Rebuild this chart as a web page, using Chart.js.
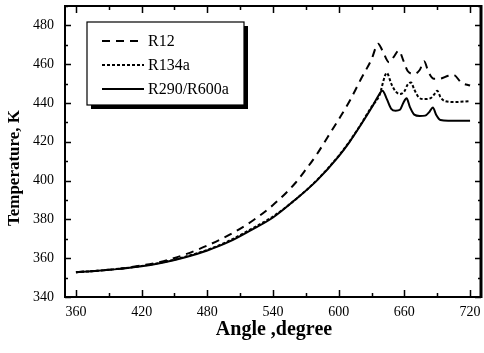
<!DOCTYPE html>
<html>
<head>
<meta charset="utf-8">
<script src="https://cdn.jsdelivr.net/npm/chart.js@4.4.1/dist/chart.umd.min.js"></script>
<style>
  html, body { margin: 0; padding: 0; background: #fff; }
  #wrap { width: 484px; height: 353px; }
</style>
</head>
<body>
<div id="wrap"><canvas id="tempChart" width="484" height="353"></canvas></div>
<script>
// Crank angle (degree) vs. temperature (K) for the three refrigerants
const anglesR12 = [360, 400, 440, 460, 480, 500, 520, 540, 560, 570, 580, 590, 600, 610, 620, 630, 636, 640, 646, 650, 655, 659, 663, 669, 674, 678, 682, 687, 692, 700, 705, 712, 720];
const tempR12 = [352.8, 354.6, 358.5, 362, 366.5, 372, 378.8, 387.4, 398.5, 405.7, 413.5, 422.5, 431.5, 441, 452, 462.5, 470.5, 467, 461, 463.5, 467, 462, 456.5, 455, 457, 461.5, 456, 452.5, 452.5, 454, 454.5, 450.5, 449];

const anglesR134a = [360, 380, 400, 420, 440, 460, 480, 500, 520, 540, 560, 580, 600, 610, 620, 630, 637, 644, 648, 652, 656, 660, 663, 666, 669, 673, 678, 684, 688, 690, 693, 697, 705, 720];
const tempR134a = [352.8, 353.5, 354.6, 356, 358, 360.8, 364.3, 369, 375, 381.5, 390, 400.2, 412.8, 420.3, 428.8, 438, 443.7, 455.5, 450, 446, 444.6, 446, 449.5, 450.6, 447, 443, 442, 442.5, 445, 446.3, 443, 441, 440.5, 441];

const anglesR290 = [360, 380, 400, 420, 440, 460, 480, 500, 520, 540, 560, 580, 600, 610, 620, 630, 636, 640, 644, 648, 652, 656, 659, 662, 665, 669, 674, 679, 683, 686, 689, 693, 700, 710, 720];
const tempR290 = [352.8, 353.5, 354.5, 355.8, 357.8, 360.5, 364, 368.5, 374.5, 381, 390, 400, 412.5, 420, 428.5, 437.5, 443.5, 446.3, 442, 437, 436, 436.5, 440, 442.4, 438, 434, 433.3, 433.5, 435.5, 437.7, 434, 431.2, 430.8, 430.8, 430.8];

const xTicks = [360, 420, 480, 540, 600, 660, 720];
const yTicks = [340, 360, 380, 400, 420, 440, 460, 480];

const serif = '"Liberation Serif", "Times New Roman", serif';

function toPoints(xs, ys) {
    return xs.map((x, i) => ({ x: x, y: ys[i] }));
}

// frame, inward tick marks, axis titles and the boxed legend
const decorations = {
    id: 'decorations',
    afterDraw(chart) {
        const ctx = chart.ctx;
        const area = chart.chartArea;
        const xs = chart.scales.x;
        const ys = chart.scales.y;
        ctx.save();
        ctx.strokeStyle = '#000';
        ctx.fillStyle = '#000';

        // ticks pointing into the plot
        ctx.lineWidth = 1.5;
        ctx.beginPath();
        for (let v = 340; v <= 490; v += 10) {
            const py = Math.round(ys.getPixelForValue(v)) + 0.5;
            const len = (v % 20 === 0) ? 6 : 3;
            ctx.moveTo(area.left, py); ctx.lineTo(area.left + len, py);
            ctx.moveTo(area.right, py); ctx.lineTo(area.right - len, py);
        }
        for (let v = 360; v <= 720; v += 30) {
            const px = Math.round(xs.getPixelForValue(v)) + 0.5;
            const len = (v % 60 === 0) ? 7 : 4;
            ctx.moveTo(px, area.bottom); ctx.lineTo(px, area.bottom - len);
            ctx.moveTo(px, area.top); ctx.lineTo(px, area.top + len);
        }
        ctx.stroke();

        // plot frame, heavier on the right
        ctx.lineWidth = 2;
        ctx.strokeRect(area.left, area.top, area.right - area.left, area.bottom - area.top);
        ctx.lineWidth = 3;
        ctx.beginPath();
        ctx.moveTo(area.right, area.top - 1);
        ctx.lineTo(area.right, area.bottom + 1);
        ctx.stroke();

        // axis titles
        ctx.font = 'bold 20px ' + serif;
        ctx.textAlign = 'center';
        ctx.textBaseline = 'middle';
        ctx.fillText('Angle ,degree', 274, 330);
        ctx.save();
        ctx.translate(15, 168);
        ctx.rotate(-Math.PI / 2);
        ctx.font = 'bold 17px ' + serif;
        ctx.fillText('Temperature, K', 0, 0);
        ctx.restore();

        // legend box with drop shadow
        const bx = 87, by = 22, bw = 157, bh = 83;
        ctx.fillRect(bx + 4, by + 4, bw, bh);
        ctx.fillStyle = '#fff';
        ctx.fillRect(bx, by, bw, bh);
        ctx.lineWidth = 1.2;
        ctx.strokeRect(bx, by, bw, bh);
        ctx.fillStyle = '#000';
        ctx.font = '16px ' + serif;
        ctx.textAlign = 'left';
        const rows = [41, 65, 89];
        chart.data.datasets.forEach((ds, i) => {
            ctx.save();
            ctx.lineWidth = ds.borderWidth;
            ctx.setLineDash(ds.borderDash || []);
            ctx.beginPath();
            ctx.moveTo(102, rows[i]);
            ctx.lineTo(144, rows[i]);
            ctx.stroke();
            ctx.restore();
            ctx.fillText(ds.label, 148, rows[i] + 1);
        });
        ctx.restore();
    }
};

new Chart(document.getElementById('tempChart'), {
    type: 'line',
    data: {
        datasets: [
            {
                label: 'R12',
                data: toPoints(anglesR12, tempR12),
                borderColor: '#000',
                borderWidth: 2,
                borderDash: [8, 6],
                pointRadius: 0,
                cubicInterpolationMode: 'monotone'
            },
            {
                label: 'R134a',
                data: toPoints(anglesR134a, tempR134a),
                borderColor: '#000',
                borderWidth: 2,
                borderDash: [3, 2],
                pointRadius: 0,
                cubicInterpolationMode: 'monotone'
            },
            {
                label: 'R290/R600a',
                data: toPoints(anglesR290, tempR290),
                borderColor: '#000',
                borderWidth: 2,
                pointRadius: 0,
                cubicInterpolationMode: 'monotone'
            }
        ]
    },
    options: {
        responsive: false,
        animation: false,
        layout: { padding: { left: 30, right: 3, top: 6, bottom: 26 } },
        plugins: {
            legend: { display: false },
            tooltip: { enabled: false }
        },
        scales: {
            x: {
                type: 'linear',
                min: 350,
                max: 730,
                afterBuildTicks: scale => { scale.ticks = xTicks.map(v => ({ value: v })); },
                afterFit: scale => { scale.height = 30; scale.paddingLeft = 0; scale.paddingRight = 0; },
                grid: { display: false, drawTicks: false },
                border: { display: false },
                ticks: { color: '#000', padding: 7, maxRotation: 0, font: { family: serif, size: 14 } }
            },
            y: {
                type: 'linear',
                min: 340,
                max: 490,
                afterBuildTicks: scale => { scale.ticks = yTicks.map(v => ({ value: v })); },
                afterFit: scale => { scale.width = 35; scale.paddingTop = 0; scale.paddingBottom = 0; },
                grid: { display: false, drawTicks: false },
                border: { display: false },
                ticks: { color: '#000', padding: 11, font: { family: serif, size: 14 } }
            }
        }
    },
    plugins: [decorations]
});
</script>
</body>
</html>
